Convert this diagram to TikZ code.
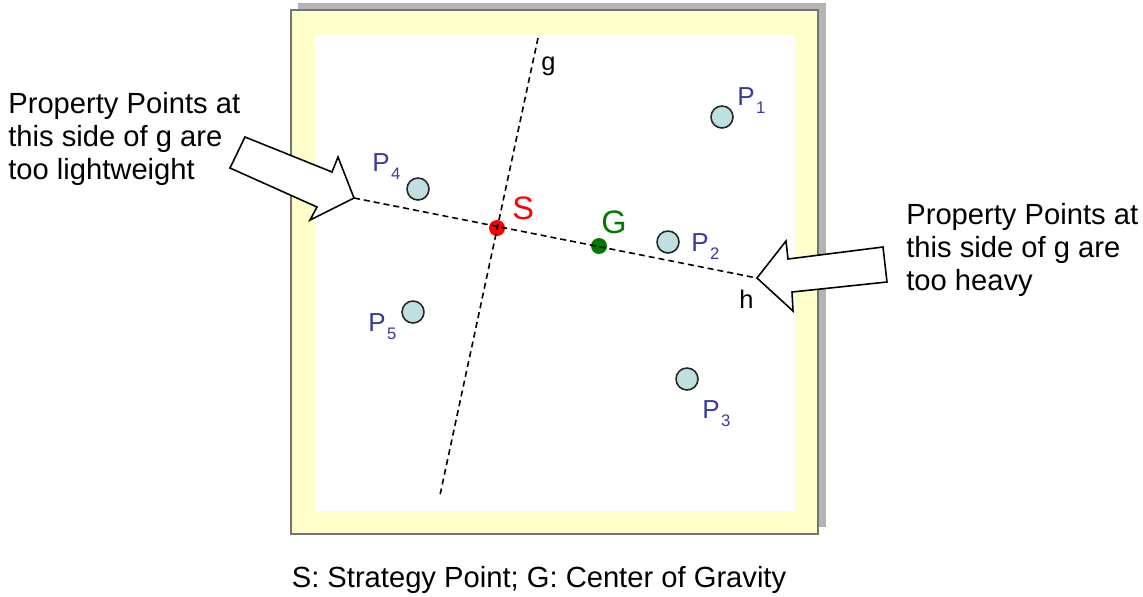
\documentclass[tikz,border=0pt]{standalone}
\usepackage{fontspec}
\setmainfont{Liberation Sans}
\usetikzlibrary{positioning}
\definecolor{frameyellow}{HTML}{FFFFCC}
\definecolor{shadowgrey}{HTML}{B4B4B4}
\definecolor{pointfill}{HTML}{BFE0E0}
\definecolor{labelblue}{HTML}{3A3A99}
\definecolor{gravgreen}{HTML}{007A00}
\newcommand{\plab}[1]{P\hspace{0.8pt}\raisebox{-5pt}{\fontsize{9.5}{11}\selectfont #1}}
\tikzset{
	pointnode/.style={
			circle,
			draw=black!85,
			line width=0.9pt,
			fill=pointfill,
			minimum size=4.4mm,
			inner sep=0pt
		},
	pointlabel/.style={
			anchor=base west,
			inner sep=0pt,
			text=labelblue,
			font=\fontsize{14.8}{16}\selectfont
		},
	dotnode/.style={
			circle,
			minimum size=3.2mm,
			inner sep=0pt
		},
	bigletter/.style={
			anchor=base west,
			inner sep=0pt,
			font=\fontsize{18.5}{20}\selectfont
		},
	lineletter/.style={
			anchor=base west,
			inner sep=0pt,
			font=\fontsize{14.5}{16}\selectfont
		},
	axisline/.style={
			dash pattern=on 3.4pt off 2.3pt,
			line width=0.9pt
		},
	blockarrow/.style={
			draw=black,
			line width=0.9pt,
			fill=white,
			line join=miter
		},
	sidetext/.style={
			anchor=north west,
			align=left,
			inner sep=0pt,
			font=\fontsize{16.6}{18.8}\selectfont
		}
}

\begin{document}
\begin{tikzpicture}[x=0.02cm, y=-0.02cm]
\useasboundingbox (0,0) rectangle (1143,596);

% frame with shadow
\fill[shadowgrey] (298,3) rectangle (826,527);
\draw[black!55, fill=frameyellow, line width=0.6pt] (291,10) rectangle (818,534);
\fill[white] (315,35) rectangle (795,511);

% strategy point and center of gravity
\node[dotnode, fill=red] (S) at (497,228) {};
\node[dotnode, fill=gravgreen] (G) at (599,246) {};

% the two lines
\coordinate (gtop) at (538,38);
\coordinate (gbot) at (440,495);
\coordinate (hleft) at (354,198);
\coordinate (hright) at (757,278);
\draw[axisline] (gtop) -- (gbot);
\draw[axisline] (hleft) -- (hright);

% block arrows
\draw[blockarrow] (245,137) -- (332,172) -- (338,157) -- (hleft)
	-- (310,220) -- (317,207) -- (230,168) -- cycle;
\draw[blockarrow] (hright) -- (786,241) -- (788,259) -- (883,247)
	-- (887,282) -- (792,292) -- (793,311) -- cycle;

% property points
\node[pointnode] (p1) at (722,117) {};
\node[pointnode] (p2) at (668,242) {};
\node[pointnode] (p3) at (687,379) {};
\node[pointnode] (p4) at (418,189) {};
\node[pointnode] (p5) at (413,312) {};

\node[pointlabel] (p1label) at (737,105) {\plab{1}};
\node[pointlabel] (p2label) at (691,251) {\plab{2}};
\node[pointlabel] (p3label) at (702,418) {\plab{3}};
\node[pointlabel] (p4label) at (372,171) {\plab{4}};
\node[pointlabel] (p5label) at (368,331) {\plab{5}};

\node[bigletter, text=red] (Slabel) at (512,219) {S};
\node[bigletter, text=gravgreen] (Glabel) at (601,233) {G};
\node[lineletter] (glabel) at (541,70) {g};
\node[lineletter] (hlabel) at (739,308) {h};

% texts
\node[sidetext] (lighttext) at (8,92) {Property Points at\\this side of g are\\too lightweight};
\node[sidetext] (heavytext) at (906,203) {Property Points at\\this side of g are\\too heavy};
\node[anchor=north, inner sep=0pt, font=\fontsize{16.6}{18.8}\selectfont] (caption) at (539,566)
	{S: Strategy Point; G: Center of Gravity};

\end{tikzpicture}
\end{document}
